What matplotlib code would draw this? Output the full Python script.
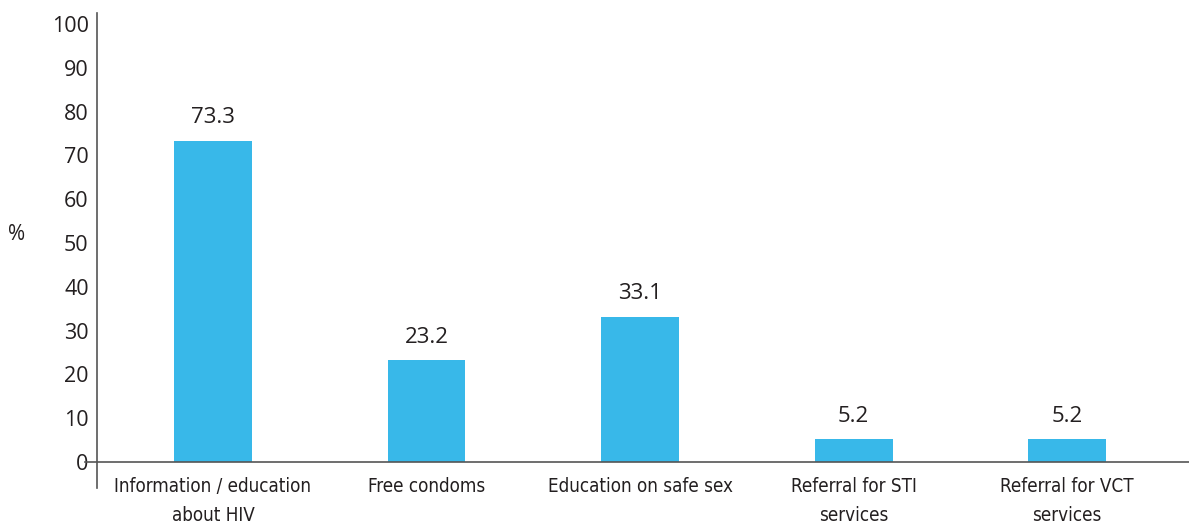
import matplotlib
matplotlib.use('Agg')
import matplotlib.pyplot as plt
import matplotlib.transforms as mtransforms

categories = ['Information / education\nabout HIV', 'Free condoms', 'Education on safe sex',
              'Referral for STI\nservices', 'Referral for VCT\nservices']
values = [73.3, 23.2, 33.1, 5.2, 5.2]
yticks = [0, 10, 20, 30, 40, 50, 60, 70, 80, 90, 100]

bar_col = '#38b8e9'
txt_col = '#231f20'
num_font = ['Open Sans', 'DejaVu Sans']
lab_font = ['DejaVu Sans']

fig = plt.figure(figsize=(11.89, 5.24), dpi=100)
ax = fig.add_axes([97/1189, 36/524, 1092/1189, 475/524])

x = list(range(len(values)))
bars = ax.bar(x, values, width=0.365, color=bar_col, zorder=2)
ax.bar_label(bars, labels=[f'{v:.1f}' for v in values], padding=9,
             fontsize=16, color=txt_col, family=num_font)

ax.set_xlim(-0.543, 4.571)
ax.set_ylim(-5.94, 102.5)

for s in ['top', 'right', 'bottom']:
    ax.spines[s].set_visible(False)
ax.spines['left'].set_color('#555555')
ax.spines['left'].set_linewidth(1.2)

# baseline, with a short stub left of the y axis
trans = mtransforms.blended_transform_factory(ax.transAxes, ax.transData)
ax.plot([-12/1092, 1], [0, 0], color='#555555', lw=1.2, transform=trans, clip_on=False, zorder=3)

ax.set_xticks([])
ax.set_yticks(yticks)
ax.set_yticklabels([str(t) for t in yticks], fontsize=15.5, color=txt_col, family=num_font)
ax.tick_params(axis='y', length=0, pad=6)

for i, c in enumerate(categories):
    ax.text(i, -3.4, c, ha='center', va='top', fontsize=13.5, color=txt_col,
            family=lab_font, fontstretch='condensed', linespacing=1.65)

fig.text(17/1189, 1 - 235/524, '%', ha='center', va='center', fontsize=15,
         color=txt_col, family=num_font)

fig.savefig('out.png', dpi=100)
